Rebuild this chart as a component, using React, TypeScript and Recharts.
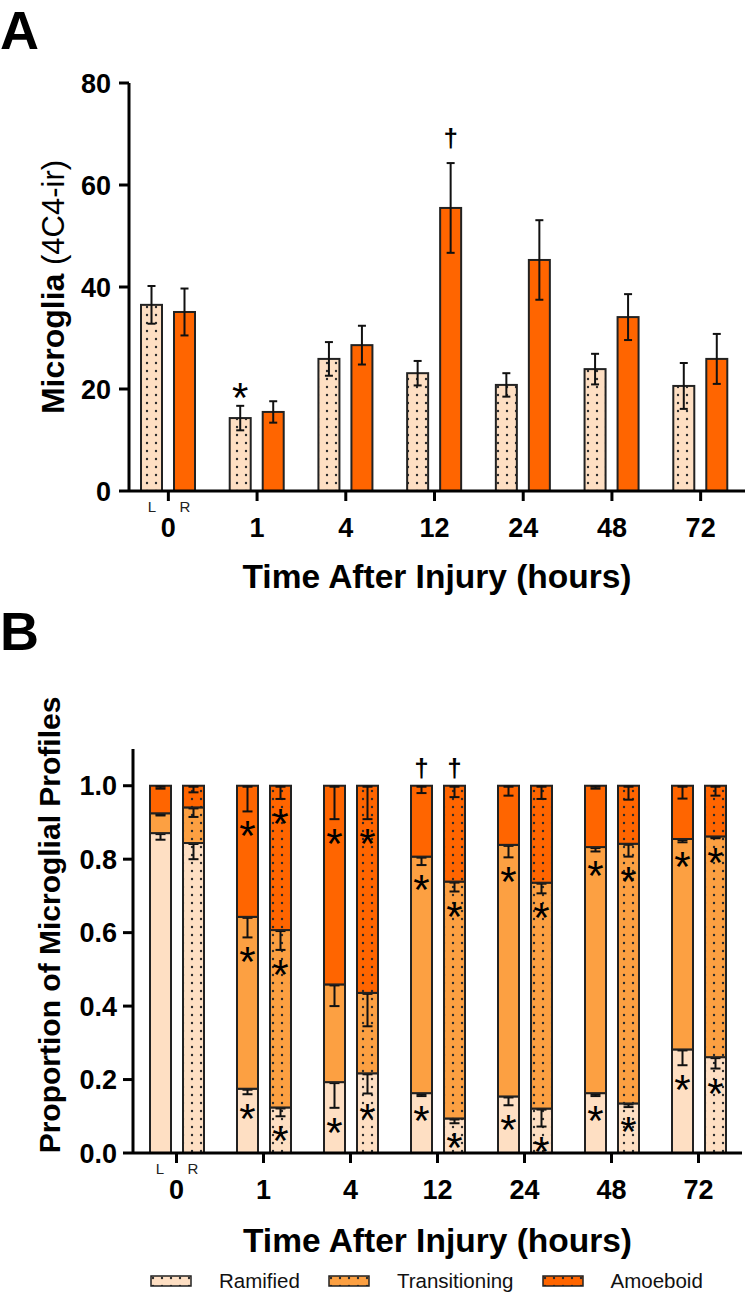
import React from "react";
import { BarChart, Bar, XAxis, YAxis, ErrorBar } from "recharts";

const FONT = "'Liberation Sans', Arial, Helvetica, sans-serif";

const RAMIFIED = "#FEDFC3";
const TRANSITIONING = "#FCA042";
const AMOEBOID = "#FF6500";
const EDGE = "#222";

const timepoints = ["0", "1", "4", "12", "24", "48", "72"];

// Panel A - 4C4-ir microglia, left (dotted) / right (solid)
const countLeft = [36.5, 14.3, 25.9, 23.1, 20.8, 23.9, 20.6];
const semLeft = [3.7, 2.4, 3.3, 2.4, 2.3, 3.0, 4.5];
const countRight = [35.1, 15.5, 28.6, 55.5, 45.3, 34.1, 25.9];
const semRight = [4.6, 2.1, 3.8, 8.8, 7.8, 4.5, 4.9];
const starLeftA = [false, true, false, false, false, false, false];
const daggerRightA = [false, false, false, true, false, false, false];

// Panel B - proportions, left (solid) / right (dotted)
const ramifiedL = [0.871, 0.175, 0.193, 0.163, 0.154, 0.163, 0.282];
const transitioningL = [0.054, 0.468, 0.266, 0.644, 0.685, 0.67, 0.573];
const amoeboidL = [0.075, 0.357, 0.541, 0.193, 0.161, 0.167, 0.145];
const ramifiedR = [0.844, 0.124, 0.217, 0.094, 0.121, 0.135, 0.261];
const transitioningR = [0.097, 0.483, 0.219, 0.645, 0.615, 0.707, 0.601];
const amoeboidR = [0.059, 0.393, 0.564, 0.261, 0.264, 0.158, 0.138];

const ramifiedErrL = [0.018, 0.015, 0.07, 0.008, 0.024, 0.008, 0.043];
const transitioningErrL = [0.006, 0.056, 0.059, 0.023, 0.034, 0.012, 0.009];
const amoeboidErrL = [0.008, 0.07, 0.091, 0.02, 0.027, 0.008, 0.035];
const ramifiedErrR = [0.044, 0.024, 0.055, 0.013, 0.049, 0.01, 0.031];
const transitioningErrR = [0.026, 0.054, 0.091, 0.027, 0.029, 0.035, 0.005];
const amoeboidErrR = [0.018, 0.036, 0.091, 0.031, 0.036, 0.038, 0.027];

const ramifiedStar = [false, true, true, true, true, true, true];
const transitioningStar = [false, true, false, true, true, true, true];
const amoeboidStar = [false, true, true, false, false, false, false];
const amoeboidDagger = [false, false, false, true, false, false, false];

const dataA = timepoints.map((t, i) => ({
  t,
  left: countLeft[i],
  semL: semLeft[i],
  right: countRight[i],
  semR: semRight[i],
}));

const dataB = timepoints.map((t, i) => ({
  t,
  ramL: ramifiedL[i],
  traL: transitioningL[i],
  amoL: amoeboidL[i],
  ramR: ramifiedR[i],
  traR: transitioningR[i],
  amoR: amoeboidR[i],
}));

const segValue = (value: any) => (Array.isArray(value) ? value[1] - value[0] : value);

const Box = ({ x, y, width, height, color, dotted }: any) => (
  <>
    <rect x={x} y={y} width={width} height={height} fill={color} />
    {dotted && <rect x={x} y={y} width={width} height={height} fill="url(#dots)" />}
    <rect x={x} y={y} width={width} height={height} fill="none" stroke={EDGE} strokeWidth={2} />
  </>
);

// panel A bar + significance marks above the error bar
const barA = (color: string, dotted: boolean, sem: number[], star: boolean[], dagger: boolean[]) => (p: any) => {
  const { x, y, width, height, value, index } = p;
  const v = segValue(value);
  const k = v ? height / v : 0;
  const top = y - sem[index] * k;
  const cx = x + width / 2;
  return (
    <g>
      <Box x={x} y={y} width={width} height={height} color={color} dotted={dotted} />
      {star[index] && (
        <text x={cx} y={top + 6} textAnchor="middle" fontSize={42} fontFamily={FONT}>*</text>
      )}
      {dagger[index] && (
        <text x={cx} y={top - 16} textAnchor="middle" fontSize={26} fontWeight="bold" fontFamily={FONT}>†</text>
      )}
    </g>
  );
};

// panel B stacked segment with a one-sided (downward) error bar
const segB = (color: string, dotted: boolean, err: number[], star: boolean[], dagger?: boolean[]) => (p: any) => {
  const { x, y, width, height, value, index } = p;
  const v = segValue(value);
  const k = v ? height / v : 0;
  const low = y + err[index] * k;
  const cx = x + width / 2;
  return (
    <g>
      <Box x={x} y={y} width={width} height={height} color={color} dotted={dotted} />
      <g stroke="#111" strokeWidth={2}>
        <line x1={cx} x2={cx} y1={y} y2={low} />
        <line x1={cx - 5} x2={cx + 5} y1={y + 1} y2={y + 1} />
        <line x1={cx - 5} x2={cx + 5} y1={low} y2={low} />
      </g>
      {star[index] && (
        <text x={cx} y={low + 39} textAnchor="middle" fontSize={42} fontFamily={FONT}>*</text>
      )}
      {dagger && dagger[index] && (
        <text x={cx} y={y - 9} textAnchor="middle" fontSize={26} fontWeight="bold" fontFamily={FONT}>†</text>
      )}
    </g>
  );
};

const TimeTick = (props: any) => {
  const { x, y, payload, index } = props;
  return (
    <g fontFamily={FONT}>
      <text x={x} y={y + 36} textAnchor="middle" fontSize={27} fontWeight="bold" fill="#000">
        {payload.value}
      </text>
      {index === 0 && (
        <>
          <text x={x - 16.5} y={y + 11} textAnchor="middle" fontSize={15} fill="#222">L</text>
          <text x={x + 16.5} y={y + 11} textAnchor="middle" fontSize={15} fill="#222">R</text>
        </>
      )}
    </g>
  );
};

const axisLine = { stroke: "#000", strokeWidth: 3 };
const yTick = { fill: "#000", fontSize: 27, fontWeight: "bold", fontFamily: FONT };
const xTitle = (offset: number) => ({
  value: "Time After Injury (hours)",
  position: "insideBottom" as const,
  offset,
  fill: "#000",
  fontSize: 33.5,
  fontWeight: "bold",
  fontFamily: FONT,
});

const LegendItem = ({ color, label }: { color: string; label: string }) => (
  <div style={{ display: "flex", alignItems: "center" }}>
    <svg width={42} height={12} style={{ marginRight: 27 }}>
      <rect x={1} y={1} width={40} height={10} fill={color} />
      <rect x={1} y={1} width={40} height={10} fill="url(#dots)" />
      <rect x={1} y={1} width={40} height={10} fill="none" stroke={EDGE} strokeWidth={1.5} />
    </svg>
    <span style={{ marginRight: 28 }}>{label}</span>
  </div>
);

const panelLetter = { position: "absolute" as const, left: 0, fontSize: 54, lineHeight: "61px", fontWeight: "bold" as const };

export default function App() {
  return (
    <div style={{ position: "absolute", left: 0, top: 0, width: 750, height: 1297, background: "#fff", fontFamily: FONT }}>
      <svg width={0} height={0} style={{ position: "absolute" }}>
        <defs>
          <pattern id="dots" width={9} height={8} patternUnits="userSpaceOnUse">
            <circle cx={3} cy={3} r={1.2} fill="#2a2a2a" />
          </pattern>
        </defs>
      </svg>

      <div style={{ ...panelLetter, top: 0 }}>A</div>
      <div style={{ ...panelLetter, top: 601 }}>B</div>

      <div style={{ position: "absolute", left: 0, top: 0 }}>
        <BarChart width={750} height={600} data={dataA} margin={{ top: 83, right: 5, bottom: 0, left: 0 }} barSize={21} barGap={12}>
          <XAxis
            dataKey="t"
            height={109}
            padding={{ left: -5, right: 0 }}
            axisLine={axisLine}
            tickLine={axisLine}
            tickSize={10}
            tickMargin={0}
            interval={0}
            tick={<TimeTick />}
            label={xTitle(12)}
          />
          <YAxis
            width={129}
            domain={[0, 80]}
            ticks={[0, 20, 40, 60, 80]}
            axisLine={axisLine}
            tickLine={axisLine}
            tickSize={10}
            tickMargin={8}
            tick={yTick}
            label={(lp: any) => {
              const vb = lp.viewBox;
              const cy = vb.y + vb.height / 2;
              const bx = 64;
              return (
                <text x={bx} y={cy} transform={`rotate(-90, ${bx}, ${cy})`} textAnchor="middle" fontFamily={FONT} fill="#000">
                  <tspan fontSize={32} fontWeight="bold">Microglia</tspan>
                  <tspan fontSize={31} fontWeight="normal"> (4C4-ir)</tspan>
                </text>
              );
            }}
          />
          <Bar dataKey="left" isAnimationActive={false} shape={barA(RAMIFIED, true, semLeft, starLeftA, [])}>
            <ErrorBar dataKey="semL" width={4} stroke="#111" strokeWidth={2} />
          </Bar>
          <Bar dataKey="right" isAnimationActive={false} shape={barA(AMOEBOID, false, semRight, [], daggerRightA)}>
            <ErrorBar dataKey="semR" width={4} stroke="#111" strokeWidth={2} />
          </Bar>
        </BarChart>
      </div>

      <div style={{ position: "absolute", left: 0, top: 620 }}>
        <BarChart width={750} height={677} data={dataB} margin={{ top: 129, right: 8, bottom: 0, left: 0 }} barSize={21} barGap={12}>
          <XAxis
            dataKey="t"
            height={144}
            axisLine={axisLine}
            tickLine={axisLine}
            tickSize={10}
            tickMargin={0}
            interval={0}
            tick={<TimeTick />}
            label={xTitle(45)}
          />
          <YAxis
            width={133}
            domain={[0, 1.1]}
            ticks={[0, 0.2, 0.4, 0.6, 0.8, 1.0]}
            tickFormatter={(v: number) => v.toFixed(1)}
            axisLine={axisLine}
            tickLine={axisLine}
            tickSize={10}
            tickMargin={6}
            tick={yTick}
            label={(lp: any) => {
              const vb = lp.viewBox;
              const cy = vb.y + vb.height / 2 - 26;
              const bx = 60;
              return (
                <text x={bx} y={cy} transform={`rotate(-90, ${bx}, ${cy})`} textAnchor="middle" fontFamily={FONT} fontSize={30} fontWeight="bold" fill="#000">
                  Proportion of Microglial Profiles
                </text>
              );
            }}
          />
          <Bar dataKey="ramL" stackId="L" isAnimationActive={false} shape={segB(RAMIFIED, false, ramifiedErrL, ramifiedStar)} />
          <Bar dataKey="traL" stackId="L" isAnimationActive={false} shape={segB(TRANSITIONING, false, transitioningErrL, transitioningStar)} />
          <Bar dataKey="amoL" stackId="L" isAnimationActive={false} shape={segB(AMOEBOID, false, amoeboidErrL, amoeboidStar, amoeboidDagger)} />
          <Bar dataKey="ramR" stackId="R" isAnimationActive={false} shape={segB(RAMIFIED, true, ramifiedErrR, ramifiedStar)} />
          <Bar dataKey="traR" stackId="R" isAnimationActive={false} shape={segB(TRANSITIONING, true, transitioningErrR, transitioningStar)} />
          <Bar dataKey="amoR" stackId="R" isAnimationActive={false} shape={segB(AMOEBOID, true, amoeboidErrR, amoeboidStar, amoeboidDagger)} />
        </BarChart>
      </div>

      <div style={{ position: "absolute", left: 150, top: 1268, height: 26, display: "flex", alignItems: "center", fontSize: 20.5, color: "#111" }}>
        <LegendItem color={RAMIFIED} label="Ramified" />
        <LegendItem color={TRANSITIONING} label="Transitioning" />
        <LegendItem color={AMOEBOID} label="Amoeboid" />
      </div>
    </div>
  );
}
